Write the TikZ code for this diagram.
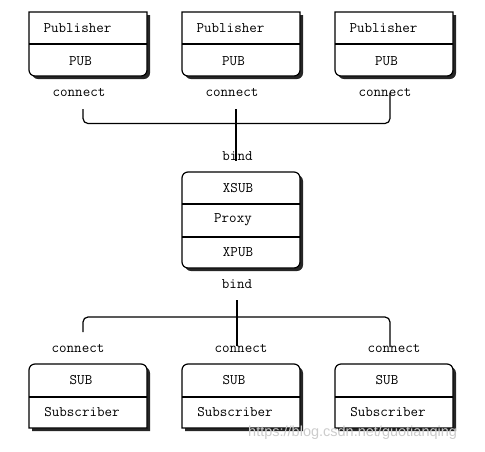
\documentclass[tikz,border=0pt]{standalone}
\usepackage{fontspec}
\setsansfont{Liberation Sans}
\newcommand\pubshape[1]{({#1+118},40) [rounded corners=6pt] -- ({#1+118},76) -- (#1,76) -- (#1,40) [sharp corners] -- (#1,12) -- ({#1+118},12) -- cycle}
\newcommand\subshape[1]{({#1+118},400) [rounded corners=6pt] -- ({#1+118},364) -- (#1,364) -- (#1,400) [sharp corners] -- (#1,428) -- ({#1+118},428) -- cycle}
\begin{document}
\begin{tikzpicture}[x=1pt,y=-1pt,
  box/.style={draw=black, line width=1.2pt, fill=white},
  shade/.style={fill=black!85, draw=none},
  lbl/.style={font=\ttfamily\fontsize{14.6}{15}\selectfont, inner sep=0pt},
  wire/.style={draw=black, line width=1.2pt, rounded corners=5pt},
  wm/.style={font=\sffamily\fontsize{14.5}{15}\selectfont, text=black!20, inner sep=0pt}]
\useasboundingbox (0,0) rectangle (485,451);
% publishers
\foreach \x/\n in {29/1,182/2,335/3}{
  \path[shade, shift={(3,3)}] \pubshape{\x};
  \path[box] \pubshape{\x};
  \draw[line width=1.2pt] (\x,44) -- ({\x+118},44);
  \node[lbl] (pubname\n) at ({\x+48.5},28) {Publisher};
  \node[lbl] (pubsock\n) at ({\x+51.5},61) {PUB};
}
% subscribers
\foreach \x/\n in {29/1,182/2,335/3}{
  \path[shade, shift={(3,3)}] \subshape{\x};
  \path[box] \subshape{\x};
  \draw[line width=1.2pt] (\x,397) -- ({\x+118},397);
  \node[lbl] (subsock\n) at ({\x+52},380) {SUB};
  \node[lbl] (subname\n) at ({\x+53},412) {Subscriber};
}
% proxy
\path[shade, rounded corners=6pt] (185,175) rectangle (303,271);
\path[box, rounded corners=6pt] (182,172) rectangle (300,268);
\draw[line width=1.2pt] (182,204) -- (300,204);
\draw[line width=1.2pt] (182,237) -- (300,237);
\node[lbl] (xsub) at (238,188) {XSUB};
\node[lbl] (proxy) at (233,220) {Proxy};
\node[lbl] (xpub) at (238,252) {XPUB};
% labels
\node[lbl] (tc1) at (79,92) {connect};
\node[lbl] (tc2) at (232,92) {connect};
\node[lbl] (tc3) at (385,92) {connect};
\node[lbl] (bindtop) at (237.5,156) {bind};
\node[lbl] (bindbot) at (237,284) {bind};
\node[lbl] (bc1) at (78,348) {connect};
\node[lbl] (bc2) at (241,348) {connect};
\node[lbl] (bc3) at (394,348) {connect};
% top wires
\coordinate (ta) at (83,109);
\coordinate (tb) at (390,93);
\coordinate (tm1) at (236,109);
\coordinate (tm2) at (236,161);
\draw[wire] (ta) -- (83,123.5) -- (390,123.5) -- (tb);
\draw[wire] (tm1) -- (tm2);
% bottom wires
\coordinate (ba) at (83,332);
\coordinate (bb) at (390,347);
\coordinate (bm1) at (237,300);
\coordinate (bm2) at (237,346);
\draw[wire] (ba) -- (83,317) -- (390,317) -- (bb);
\draw[wire] (bm1) -- (bm2);
% watermark
\node[wm, anchor=west] (wmark) at (248,433) {https://blog.csdn.net/guotianqing};
\end{tikzpicture}
\end{document}
